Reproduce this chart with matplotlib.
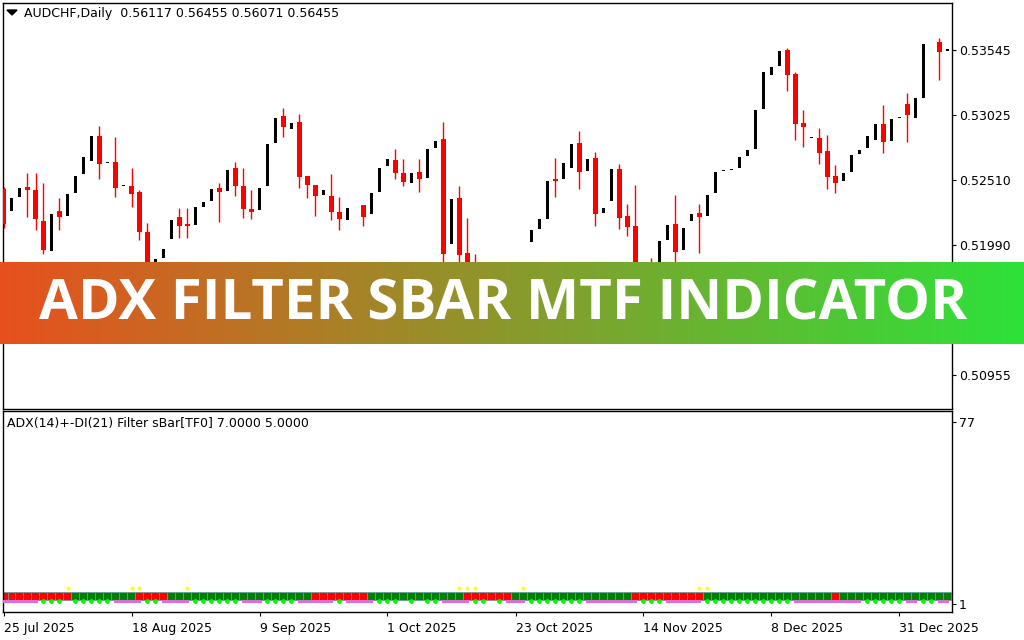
import numpy as np
import matplotlib
matplotlib.use('Agg')
import matplotlib.pyplot as plt
from matplotlib.patches import Polygon

W, H = 1024, 640
nan = np.nan

# ---------------- data (AUDCHF daily) ----------------
opens = [0.52441, 0.52265, 0.52377, 0.52457, 0.52433, 0.52185, 0.51945, 0.52265, 0.52225, 0.52409,
         0.52553, 0.52657, 0.52857, 0.52649, 0.52649, 0.52465, 0.52465, 0.52417, 0.52097, 0.51785,
         0.51889, 0.52041, 0.52217, 0.52161, 0.52153, 0.52297, 0.52345, 0.52449, 0.52425, 0.52601,
         0.52465, 0.52281, 0.52273, 0.52465, 0.52801, 0.53017, 0.52913, 0.52969, 0.52537, 0.52473,
         0.52393, 0.52385, 0.52257, 0.52193, nan, 0.52313, 0.52241, 0.52417, 0.52617, 0.52665,
         0.52561, 0.52489, 0.52569, 0.52521, 0.52761, 0.52833, 0.52001, 0.52369, 0.51929, 0.51825,
         0.51673, 0.51569, 0.51665, 0.51769, 0.51705, 0.51745, 0.52017, 0.52121, 0.52201, 0.52513,
         0.52513, 0.52601, 0.52801, 0.52577, 0.52681, 0.52249, 0.52345, 0.52593, 0.52225, 0.52145,
         0.51785, 0.51801, 0.51745, 0.52033, 0.52161, 0.51953, 0.52185, 0.52249, 0.52225, 0.52409,
         0.52585, 0.52593, 0.52601, 0.52697, 0.52753, 0.53073, 0.53345, 0.53417, 0.53545, 0.53353,
         0.52961, 0.52849, 0.52841, 0.52737, 0.52537, 0.52505, 0.52569, 0.52713, 0.52761, 0.52825,
         0.52953, 0.52817, 0.53009, 0.53113, 0.53001, 0.53161, nan, 0.53609, 0.53545]
highs = [0.52457, 0.52369, 0.52449, 0.52561, 0.52561, 0.52489, 0.52241, 0.52369, 0.52401, 0.52537,
         0.52689, 0.52857, 0.52937, 0.52649, 0.52849, 0.52465, 0.52601, 0.52433, 0.52169, 0.51881,
         0.51961, 0.52193, 0.52289, 0.52289, 0.52297, 0.52337, 0.52441, 0.52489, 0.52585, 0.52649,
         0.52601, 0.52433, 0.52449, 0.52793, 0.53001, 0.53081, 0.52961, 0.53033, 0.52537, 0.52473,
         0.52433, 0.52553, 0.52377, 0.52289, nan, 0.52313, 0.52409, 0.52601, 0.52673, 0.52753,
         0.52673, 0.52561, 0.52673, 0.52753, 0.52817, 0.52969, 0.52361, 0.52465, 0.52209, 0.51921,
         0.51721, 0.51665, 0.51785, 0.51817, 0.51825, 0.51841, 0.52113, 0.52201, 0.52505, 0.52681,
         0.52641, 0.52793, 0.52897, 0.52673, 0.52729, 0.52289, 0.52593, 0.52633, 0.52321, 0.52473,
         0.51833, 0.51889, 0.52025, 0.52153, 0.52393, 0.52129, 0.52241, 0.52321, 0.52393, 0.52569,
         0.52585, 0.52593, 0.52689, 0.52745, 0.53065, 0.53369, 0.53409, 0.53537, 0.53561, 0.53369,
         0.53065, 0.52849, 0.52921, 0.52865, 0.52625, 0.52561, 0.52705, 0.52745, 0.52857, 0.52953,
         0.53105, 0.52993, 0.53009, 0.53201, 0.53161, 0.53593, nan, 0.53641, 0.53545]
lows = [0.52129, 0.52265, 0.52377, 0.52217, 0.52113, 0.51921, 0.51945, 0.52113, 0.52225, 0.52409,
        0.52553, 0.52657, 0.52513, 0.52649, 0.52377, 0.52465, 0.52297, 0.52033, 0.51769, 0.51785,
        0.51889, 0.52041, 0.52049, 0.52049, 0.52153, 0.52297, 0.52345, 0.52177, 0.52425, 0.52385,
        0.52209, 0.52201, 0.52273, 0.52465, 0.52801, 0.52849, 0.52913, 0.52449, 0.52369, 0.52225,
        0.52393, 0.52193, 0.52113, 0.52193, nan, 0.52145, 0.52241, 0.52417, 0.52617, 0.52513,
        0.52465, 0.52489, 0.52417, 0.52521, 0.52761, 0.51825, 0.52001, 0.51817, 0.51705, 0.51625,
        0.51545, 0.51569, 0.51665, 0.51641, 0.51705, 0.51745, 0.52017, 0.52121, 0.52201, 0.52377,
        0.52513, 0.52601, 0.52441, 0.52577, 0.52145, 0.52249, 0.52345, 0.52121, 0.52065, 0.51745,
        0.51625, 0.51665, 0.51745, 0.52033, 0.51825, 0.51953, 0.52185, 0.51929, 0.52225, 0.52409,
        0.52585, 0.52593, 0.52601, 0.52697, 0.52753, 0.53073, 0.53345, 0.53417, 0.53217, 0.52825,
        0.52769, 0.52849, 0.52633, 0.52441, 0.52409, 0.52505, 0.52569, 0.52713, 0.52761, 0.52825,
        0.52721, 0.52817, 0.53009, 0.52809, 0.53001, 0.53161, nan, 0.53305, 0.53545]
closes = [0.52161, 0.52369, 0.52449, 0.52433, 0.52201, 0.51953, 0.52241, 0.52217, 0.52401, 0.52537,
          0.52689, 0.52857, 0.52633, 0.52649, 0.52449, 0.52465, 0.52401, 0.52097, 0.51801, 0.51881,
          0.51961, 0.52193, 0.52145, 0.52145, 0.52297, 0.52337, 0.52441, 0.52417, 0.52585, 0.52465,
          0.52281, 0.52257, 0.52449, 0.52793, 0.53001, 0.52929, 0.52961, 0.52529, 0.52473, 0.52385,
          0.52433, 0.52257, 0.52201, 0.52289, nan, 0.52217, 0.52409, 0.52601, 0.52673, 0.52561,
          0.52497, 0.52561, 0.52513, 0.52753, 0.52817, 0.51921, 0.52361, 0.51913, 0.51745, 0.51665,
          0.51585, 0.51665, 0.51785, 0.51689, 0.51825, 0.51841, 0.52113, 0.52201, 0.52505, 0.52505,
          0.52641, 0.52793, 0.52569, 0.52673, 0.52241, 0.52289, 0.52593, 0.52209, 0.52137, 0.51785,
          0.51665, 0.51705, 0.52025, 0.52153, 0.51937, 0.52129, 0.52241, 0.52217, 0.52393, 0.52569,
          0.52585, 0.52593, 0.52689, 0.52745, 0.53065, 0.53369, 0.53409, 0.53537, 0.53345, 0.52953,
          0.52929, 0.52849, 0.52721, 0.52529, 0.52489, 0.52561, 0.52705, 0.52745, 0.52857, 0.52953,
          0.52809, 0.52993, 0.53009, 0.53025, 0.53161, 0.53593, nan, 0.53529, 0.53545]

date_labels = ['25 Jul 2025', '18 Aug 2025', '9 Sep 2025', '1 Oct 2025',
               '23 Oct 2025', '14 Nov 2025', '8 Dec 2025', '31 Dec 2025']
date_bar_index = [0, 16, 32, 48, 64, 80, 96, 112]
price_ticks = [0.53545, 0.53025, 0.52510, 0.51990, 0.50955]
ind_ticks = [77, 1]

# sBar trend state per bar (R = red, G = green), run-length
trend_runs = [('R', 9), ('G', 8), ('R', 4), ('G', 18), ('R', 7), ('G', 12), ('R', 6),
              ('G', 15), ('R', 9), ('G', 16), ('R', 1), ('G', 14)]
# yellow signal dots (bar indices)
yellow_bars = [8, 16, 17, 23, 57, 58, 59, 65, 87, 88]
# lower row: M = magenta line, L = lime dot, N = nothing
lower_runs = [('M', 5), ('L', 3), ('N', 1), ('L', 5), ('M', 4), ('L', 2), ('M', 4), ('L', 6),
              ('M', 3), ('L', 4), ('M', 5), ('L', 1), ('M', 4), ('L', 3), ('N', 1), ('L', 1),
              ('N', 1), ('L', 2), ('M', 4), ('L', 2), ('N', 1), ('L', 1), ('M', 3), ('L', 7),
              ('M', 7), ('L', 3), ('M', 5), ('L', 11), ('M', 9), ('L', 5), ('M', 2), ('L', 2),
              ('M', 2)]

header_text = 'AUDCHF,Daily  0.56117 0.56455 0.56071 0.56455'
ind_text = 'ADX(14)+-DI(21) Filter sBar[TF0] 7.0000 5.0000'
banner_text = 'ADX FILTER SBAR MTF INDICATOR'

# ---------------- figure ----------------
def fx(px):
    return px / W

def fy(py):
    return 1 - py / H

fig = plt.figure(figsize=(W / 100, H / 100), dpi=100)
fig.patch.set_facecolor('white')

L_PX, R_PX = 3, 952
ax1 = fig.add_axes([fx(L_PX), fy(409), (R_PX - L_PX) / W, (409 - 3) / H])
ax2 = fig.add_axes([fx(L_PX), fy(612), (R_PX - L_PX) / W, (612 - 411) / H])

n = len(opens)
xlim = (-0.5 / 8, (R_PX - L_PX - 0.5) / 8)
for ax in (ax1, ax2):
    ax.set_xlim(*xlim)
    for s in ax.spines.values():
        s.set_linewidth(1.0)
        s.set_color('black')

# price scale from tick pixel positions: 0.53545 @ y=50, 0.50955 @ y=375
slope = (0.53545 - 0.50955) / (375 - 50)
ax1.set_ylim(0.53545 - (409 - 50) * slope, 0.53545 + (50 - 3) * slope)

o = np.array(opens); h = np.array(highs); l = np.array(lows); c = np.array(closes)
x = np.arange(n)
valid = ~np.isnan(o)
up = np.zeros(n, bool); up[valid] = c[valid] >= o[valid]
red = valid & ~up
blk = valid & up
min_h = 1.1 * slope
diff = np.abs(c - o)
bot = np.where(diff < min_h, (o + c) / 2 - min_h / 2, np.minimum(o, c))
hh = np.maximum(diff, min_h)

ax1.vlines(x[red], l[red], h[red], color='#FF0000', lw=1.0, zorder=2)
ax1.bar(x[red], hh[red], bottom=bot[red], width=0.6, color='#FF0000', linewidth=0, zorder=3)
ax1.bar(x[blk], hh[blk], bottom=bot[blk], width=0.4, color='black', linewidth=0, zorder=3)

ax1.yaxis.tick_right()
ax1.set_yticks(price_ticks)
ax1.set_yticklabels([f'{p:.5f}' for p in price_ticks])
ax1.tick_params(axis='y', length=3, width=0.8, pad=2, labelsize=9, colors='black')
ax1.set_xticks([])

# ---------------- indicator pane ----------------
vs = (77 - 1) / (604 - 422)
ax2.set_ylim(1 - (612 - 604) * vs, 77 + (422 - 411) * vs)
SQ_BOT = 1 + (604 - 600) * vs
SQ_TOP = 1 + (604 - 592) * vs
Y_YEL = 1 + (604 - 587.7) * vs
Y_LOW = 1 + (604 - 601.3) * vs

trend = []
for col, cnt in trend_runs:
    trend += [col] * cnt
lower = []
for col, cnt in lower_runs:
    lower += [col] * cnt
trend = np.array(trend); lower = np.array(lower)

sq_colors = np.where(trend == 'R', '#FF0000', '#008000')
ax2.bar(x, SQ_TOP - SQ_BOT, bottom=SQ_BOT, width=1.0, color=sq_colors,
        edgecolor=(0.37, 0.62, 0.63, 0.75), linewidth=0.7, zorder=2)

ax2.plot(yellow_bars, [Y_YEL] * len(yellow_bars), 'o', color='#FFFF00', ms=2.8,
         markeredgewidth=0, zorder=3)

mag = np.where(lower == 'M', Y_LOW, np.nan)
ax2.plot(x, mag, color='#DA70D6', lw=2.2, solid_capstyle='projecting', zorder=3)
lime_x = x[lower == 'L']
ax2.plot(lime_x, [Y_LOW] * len(lime_x), 'o', color='#00FF00', ms=3.4,
         markeredgewidth=0, zorder=4)

ax2.yaxis.tick_right()
ax2.set_yticks(ind_ticks)
ax2.set_yticklabels([str(t) for t in ind_ticks])
ax2.tick_params(axis='y', length=3, width=0.8, pad=2, labelsize=9, colors='black')
ax2.set_xticks(date_bar_index)
ax2.set_xticklabels(date_labels, ha='left')
ax2.tick_params(axis='x', length=3, width=0.8, pad=4, labelsize=9, colors='black')

# ---------------- texts ----------------
fig.text(fx(24), fy(14), header_text, fontsize=9, va='center', ha='left', color='black')
fig.add_artist(Polygon([[fx(7), fy(10)], [fx(17), fy(10)], [fx(12), fy(15)]],
                       closed=True, transform=fig.transFigure, color='black'))
fig.text(fx(7), fy(423), ind_text, fontsize=9, va='center', ha='left', color='black')

# ---------------- banner ----------------
bx = fig.add_axes([0, fy(344), 1, (344 - 262) / H], zorder=10)
bx.axis('off')
c0 = np.array([232, 80, 30]) / 255
c1 = np.array([45, 226, 58]) / 255
t = np.linspace(0, 1, 512)[None, :, None]
grad = c0 + (c1 - c0) * t
bx.imshow(grad, aspect='auto', extent=[0, 1, 0, 1])
bx.set_xlim(0, 1); bx.set_ylim(0, 1)

bt = fig.text(fx(503.5), fy(320), banner_text, color='white', fontsize=40,
              fontfamily='Open Sans', fontweight='bold', ha='center', va='baseline',
              zorder=20)
fig.canvas.draw()
bb = bt.get_window_extent()
bt.set_fontsize(40 * 927 / bb.width)

fig.savefig('out.png', dpi=100)
